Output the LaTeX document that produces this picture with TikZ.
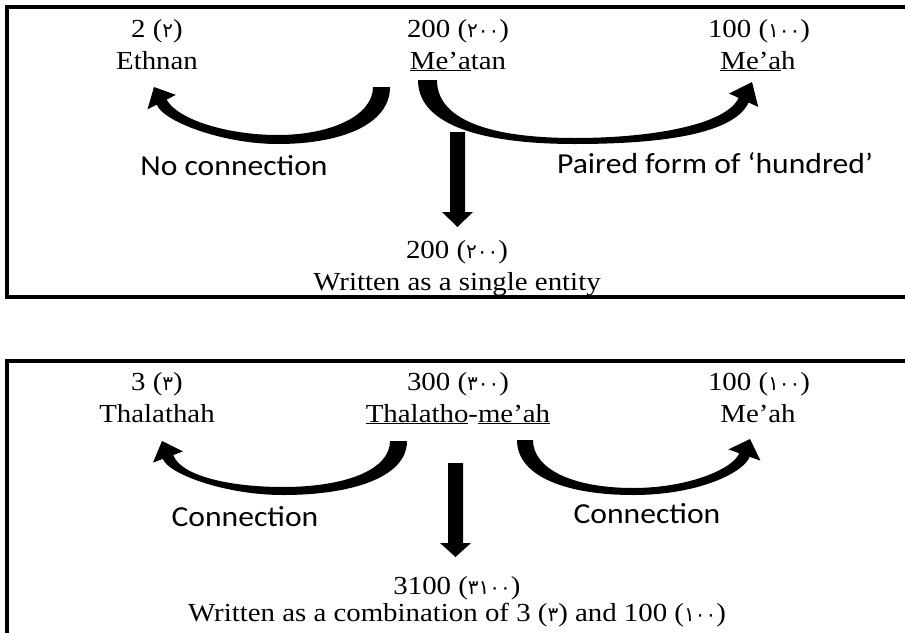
\documentclass[tikz,border=0pt]{standalone}
\usepackage{fontspec}
\setmainfont{Liberation Serif}[FakeStretch=1.11]
\newfontfamily\sansfnt{Carlito}[FakeStretch=1.09]
\newfontfamily\arabicfont[Script=Arabic]{DejaVu Sans}
\newcommand{\ardig}[1]{{\arabicfont\fontsize{20}{22}\selectfont #1}}
\begin{document}
\begin{tikzpicture}[x=1pt,y=-1pt,
  frame/.style={line width=4pt, draw=black},
  serif/.style={font=\fontsize{26}{31}\selectfont, anchor=base, inner sep=0pt},
  sanslbl/.style={font=\sansfnt\fontsize{29}{35}\selectfont, anchor=base, inner sep=0pt},
  blockarrow/.style={fill=black, draw=none}]
\useasboundingbox (0,0) rectangle (905,632);

% two framed panels
\draw[frame] (7,7) rectangle (930,297);
\draw[frame] (7,361) rectangle (930,700);

% ---------- upper panel: 200 ----------
\node[serif] (t2num)    at (157,37) {2 (\ardig{٢})};
\node[serif] (t2name)   at (157,69) {Ethnan};
\node[serif] (t200num)  at (458,37) {200 (\ardig{٢٠٠})};
\node[serif] (t200name) at (458,69) {\underline{Me’a}tan};
\node[serif] (t100num)  at (759,37) {100 (\ardig{١٠٠})};
\node[serif] (t100name) at (758,69) {\underline{Me’a}h};
\node[sanslbl] (lblNo)     at (234,175) {No connection};
\node[sanslbl] (lblPaired) at (715,173) {Paired form of ‘hundred’};
\node[serif] (r200num)  at (457,258) {200 (\ardig{٢٠٠})};
\node[serif] (r200txt)  at (457,290) {Written as a single entity};

% curved block arrow towards Ethnan
\fill[blockarrow] (390,87) .. controls (390,125) and (340,144) .. (278,144)
  .. controls (222,144) and (162.4,121) .. (156.8,104.6)
  -- (147.5,109.3) -- (154,87) -- (175.9,94.9) -- (166.6,99.6)
  .. controls (178,120) and (228,135) .. (278,135)
  .. controls (330,135) and (373,116) .. (373,87) -- cycle;

% curved block arrow towards Me'ah
\fill[blockarrow] (418,80) .. controls (418,128) and (490,144) .. (575,144)
  .. controls (660,144) and (733.9,134.4) .. (748.6,102.5)
  -- (758.2,106.9) -- (752,82) -- (729,93.5) -- (738.6,97.9)
  .. controls (726,125.2) and (650,138) .. (575,138)
  .. controls (490,138) and (437,120) .. (437,80) -- cycle;

% straight block arrow downwards
\fill[blockarrow] (450,132) -- (465,132) -- (465,212) -- (473,212)
  -- (457.5,227) -- (442,212) -- (450,212) -- cycle;

% ---------- lower panel: 300 ----------
\node[serif] (b3num)    at (157,390) {3 (\ardig{٣})};
\node[serif] (b3name)   at (157,422) {Thalathah};
\node[serif] (b300num)  at (458,390) {300 (\ardig{٣٠٠})};
\node[serif] (b300name) at (458,422) {\underline{Thalatho}-\underline{me’ah}};
\node[serif] (b100num)  at (759,390) {100 (\ardig{١٠٠})};
\node[serif] (b100name) at (758,422) {Me’ah};
\node[sanslbl] (lblC1) at (245,526) {Connection};
\node[sanslbl] (lblC2) at (647,523) {Connection};
\node[serif] (r3100num) at (457,594) {3100 (\ardig{٣١٠٠})};
\node[serif] (r3100txt) at (457,621) {Written as a combination of 3 (\ardig{٣}) and 100 (\ardig{١٠٠})};

% curved block arrow towards Thalathah
\fill[blockarrow] (407,441) .. controls (407,478) and (350,495) .. (283,495)
  .. controls (225,495) and (168.4,473.9) .. (162.8,458.9)
  -- (153,462.6) -- (162,441) -- (183,451.4) -- (173.2,455.1)
  .. controls (181,476) and (230,487) .. (283,487)
  .. controls (345,487) and (390,470) .. (390,441) -- cycle;

% curved block arrow towards Me'ah
\fill[blockarrow] (517,440) .. controls (517,478) and (570,495) .. (633,495)
  .. controls (700,495) and (744.3,471.8) .. (749.6,456.8)
  -- (760.4,460.6) -- (750,439) -- (728.4,449.4) -- (739.2,453.2)
  .. controls (734,468) and (690,488) .. (633,488)
  .. controls (575,488) and (533,470) .. (533,440) -- cycle;

% straight block arrow downwards
\fill[blockarrow] (448,463) -- (463,463) -- (463,543) -- (471,543)
  -- (455.5,557) -- (440,543) -- (448,543) -- cycle;
\end{tikzpicture}
\end{document}
